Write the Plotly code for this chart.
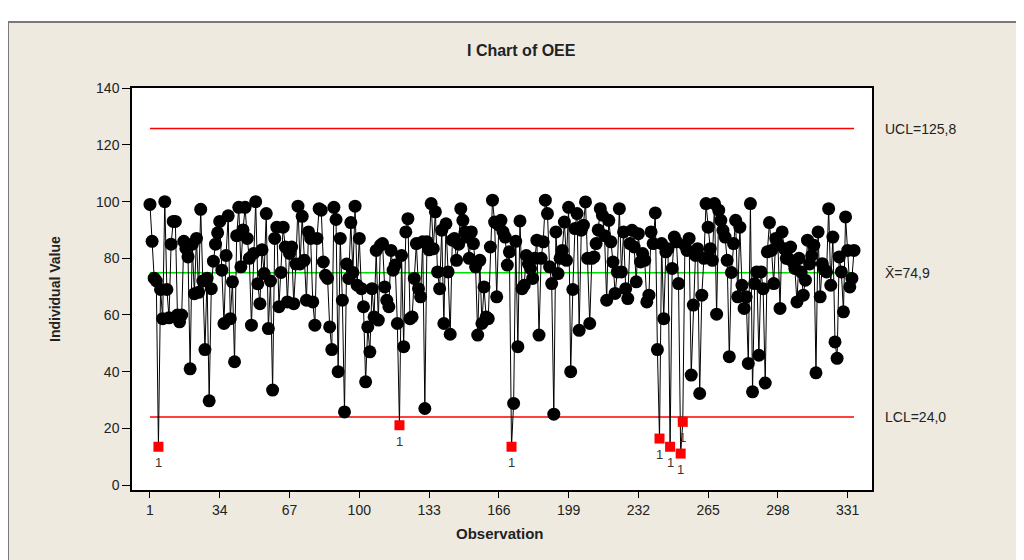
import plotly.graph_objects as go

# ---- data ----
oee = [
    99, 86, 73, 72, 13.5, 69, 58.7, 100, 69, 59,
    85, 93, 93, 60, 57.6, 60, 86, 83.5, 80.5, 41,
    85, 67.5, 87, 68, 97.3, 72, 47.8, 73, 29.7, 69.3,
    79, 85, 89, 93, 75.8, 57, 81, 95, 58.7, 71.7,
    43.5, 88, 98, 77, 90, 98, 87, 80, 56.4, 81.7,
    100, 71, 64, 83, 74.6, 95.8, 55.2, 72, 33.5, 87,
    91, 62.9, 75, 91, 84, 64.6, 81.7, 84, 64, 78,
    98.4, 78, 94.8, 79.3, 65.2, 89.3, 87, 64.6, 56.4, 87,
    97.5, 97, 78.7, 74, 72.9, 55.8, 47.8, 98, 93.7, 40,
    87, 65.2, 25.8, 78, 72.9, 92.6, 75, 98.4, 70.5, 87,
    69.3, 62.9, 36.4, 55.8, 47, 69.3, 59.3, 82.8, 58.2, 84.6,
    85.2, 69.9, 65.2, 62.9, 82.8, 75.8, 77.6, 57, 21.1, 81,
    48.8, 89.3, 94, 58.7, 59.3, 72.9, 85.2, 69.3, 66.4, 85.8,
    27, 85.8, 83, 99.3, 83.4, 96.4, 75.2, 69.3, 89.9, 57,
    92.2, 75.2, 53.2, 86.4, 87, 79.3, 85, 97.5, 93.4, 89.3,
    87.5, 80, 89.3, 85.2, 77, 52.9, 79.3, 57, 69.9, 59.3,
    58.7, 84, 100.5, 92.8, 66.4, 91.7, 93.4, 89.3, 87.5, 77.6,
    82.3, 13.5, 28.8, 86, 48.8, 93.2, 69.3, 70.5, 81, 78,
    76.4, 72.9, 80, 86.4, 52.9, 80, 85.8, 100.5, 95.8, 77,
    71.1, 25, 89.3, 74.6, 80, 82.8, 92.8, 79.3, 98, 40,
    69, 90.5, 95.8, 54.6, 89.9, 91.7, 99.9, 80, 57, 80,
    80.5, 85.2, 90, 97.5, 95.2, 88, 65.2, 93.4, 85.8, 78.7,
    67.6, 75.2, 97.5, 75.2, 89.3, 69.3, 65.8, 85.2, 89.9, 84,
    71.7, 88.7, 78.7, 81.7, 79.3, 64.6, 67, 89.3, 85.2, 96,
    47.8, 16.4, 85.2, 58.7, 82.3, 83.4, 13.5, 76.4, 87.5, 85.8,
    71.1, 11.1, 22.3, 84.6, 82.8, 87, 38.8, 63.5, 81, 83.4,
    32.3, 67, 80, 99.3, 91, 83.4, 79.3, 99.3, 60.3, 97,
    93.4, 89.9, 87.5, 79.3, 45.3, 75, 85.2, 93.4, 66.4, 91,
    70.5, 62.3, 66.4, 42.9, 99.3, 32.9, 71.1, 75.2, 45.8, 75.2,
    69.3, 36, 82.3, 92.6, 82.8, 71.1, 87, 85, 62.3, 89.3,
    83.4, 80, 79.9, 84, 78.7, 76.4, 64.6, 80, 75.2, 67,
    72.3, 86.4, 78, 81, 84.6, 39.6, 89.3, 66.4, 78.1, 76,
    75.2, 97.5, 70.5, 87.5, 50.5, 44.7, 80.5, 75.2, 61.1, 94.6,
    82.8, 69.9, 72.9, 82.8,
]
obs = list(range(1, len(oee) + 1))

UCL = 125.8
CL = 74.9
LCL = 24.0
limit_labels = ["UCL=125,8", "X\u0304=74,9", "LCL=24,0"]
limit_values = [UCL, CL, LCL]

x_ticks = [1, 34, 67, 100, 133, 166, 199, 232, 265, 298, 331]
y_ticks = [0, 20, 40, 60, 80, 100, 120, 140]

ooc_x = [o for o, v in zip(obs, oee) if v < LCL or v > UCL]
ooc_y = [v for v in oee if v < LCL or v > UCL]
ic_x = [o for o, v in zip(obs, oee) if LCL <= v <= UCL]
ic_y = [v for v in oee if LCL <= v <= UCL]

BEIGE = "#EEEAE0"
FONT = "Liberation Sans"

# page body has an 8px margin; plot area spans x 132..872, y 88..490 on screen
PW, PH = 740, 402

def px(xp):
    return (xp - 132) / PW

def py(yp):
    return (490 - yp) / PH

fig = go.Figure()

fig.add_trace(go.Scatter(x=[obs[0], obs[-1]], y=[UCL, UCL], mode="lines",
                         line=dict(color="#FF0000", width=1.5), hoverinfo="skip"))
fig.add_trace(go.Scatter(x=[obs[0], obs[-1]], y=[LCL, LCL], mode="lines",
                         line=dict(color="#FF0000", width=1.5), hoverinfo="skip"))
fig.add_trace(go.Scatter(x=[obs[0], obs[-1]], y=[CL, CL], mode="lines",
                         line=dict(color="#00E000", width=1.5), hoverinfo="skip"))

fig.add_trace(go.Scatter(x=obs, y=oee, mode="lines",
                         line=dict(color="black", width=1)))
fig.add_trace(go.Scatter(x=ic_x, y=ic_y, mode="markers",
                         marker=dict(color="black", size=13, symbol="circle",
                                     line=dict(width=0))))
fig.add_trace(go.Scatter(x=ooc_x, y=ooc_y, mode="markers",
                         marker=dict(color="#FF0000", size=10, symbol="square",
                                     line=dict(width=0))))

annotations = []
for xv, yv in zip(ooc_x, ooc_y):
    annotations.append(dict(x=xv, y=yv, xref="x", yref="y", text="1",
                            showarrow=False, yshift=-16,
                            xanchor="center", yanchor="middle",
                            font=dict(family=FONT, size=13, color="#333333")))
for lab, val in zip(limit_labels, limit_values):
    annotations.append(dict(x=px(883), y=val, xref="paper", yref="y", text=lab,
                            xanchor="left", yanchor="middle", showarrow=False,
                            font=dict(family=FONT, size=14, color="#222222")))
annotations.append(dict(x=px(521), y=py(50), xref="paper", yref="paper",
                        text="<b>I Chart of OEE</b>", showarrow=False,
                        xanchor="center", yanchor="middle",
                        font=dict(family=FONT, size=16, color="#222222")))
annotations.append(dict(x=px(500), y=py(533), xref="paper", yref="paper",
                        text="<b>Observation</b>", showarrow=False,
                        xanchor="center", yanchor="middle",
                        font=dict(family=FONT, size=15, color="#222222")))
annotations.append(dict(x=px(55), y=py(289), xref="paper", yref="paper",
                        text="<b>Individual Value</b>", showarrow=False,
                        textangle=-90, xanchor="center", yanchor="middle",
                        font=dict(family=FONT, size=14, color="#222222")))

shapes = [
    dict(type="rect", xref="paper", yref="paper", x0=px(-20), x1=px(1100),
         y0=py(22), y1=py(-20), fillcolor="white", line=dict(width=0)),
    dict(type="rect", xref="paper", yref="paper", x0=px(-20), x1=px(8),
         y0=py(600), y1=py(-20), fillcolor="white", line=dict(width=0)),
    dict(type="line", xref="paper", yref="paper", x0=px(8), x1=px(1100),
         y0=py(22), y1=py(22), line=dict(color="#7A7A7A", width=2)),
    dict(type="line", xref="paper", yref="paper", x0=px(8), x1=px(8),
         y0=py(600), y1=py(22), line=dict(color="#7A7A7A", width=2)),
]

fig.update_layout(
    width=1024, height=560,
    margin=dict(l=124, r=160, t=80, b=78),
    paper_bgcolor=BEIGE, plot_bgcolor="white",
    showlegend=False,
    annotations=annotations,
    shapes=shapes,
    font=dict(family=FONT, size=14, color="#222222"),
)
fig.update_xaxes(range=[-7.5, 342.5], tickvals=x_ticks, ticks="outside",
                 ticklen=6, tickcolor="black", showgrid=False, zeroline=False,
                 showline=True, linecolor="black", linewidth=1.5, mirror=True,
                 tickfont=dict(family=FONT, size=14, color="#222222"))
fig.update_yaxes(range=[-1.76, 140.1], tickvals=y_ticks, ticks="outside",
                 ticklen=8, tickcolor="black", showgrid=False, zeroline=False,
                 showline=True, linecolor="black", linewidth=1.5, mirror=True,
                 tickfont=dict(family=FONT, size=14, color="#222222"))

fig.write_html("out.html")
